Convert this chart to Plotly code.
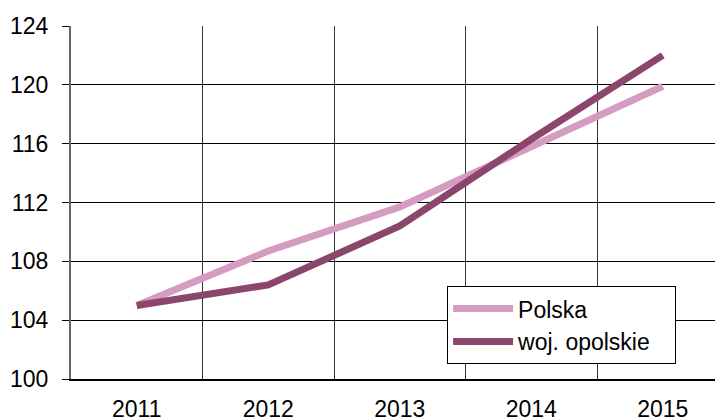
import plotly.graph_objects as go

years = [2011, 2012, 2013, 2014, 2015]
polska = [105.0, 108.7, 111.7, 115.8, 119.9]
opolskie = [105.0, 106.4, 110.4, 116.3, 122.0]
y_ticks = [100, 104, 108, 112, 116, 120, 124]
names = ["Polska", "woj. opolskie"]

pad = "\u00a0\u00a0\u00a0"
fig = go.Figure()
fig.add_trace(go.Scatter(x=years, y=polska, mode="lines", name=names[0] + pad,
                         line=dict(color="#D69BC0", width=7)))
fig.add_trace(go.Scatter(x=years, y=opolskie, mode="lines", name=names[1] + pad,
                         line=dict(color="#8B466E", width=7)))

fig.update_layout(
    width=715, height=417,
    margin=dict(l=71, r=0, t=26, b=38),
    paper_bgcolor="white", plot_bgcolor="white",
    font=dict(family="Liberation Sans, Arial, sans-serif", size=23, color="black"),
    legend=dict(x=0.584, y=0.263, xanchor="left", yanchor="top",
                bordercolor="black", borderwidth=1, bgcolor="white",
                font=dict(size=23), tracegroupgap=0, itemwidth=60),
    showlegend=True,
)
fig.update_xaxes(
    range=[2010.5, 2015.397],
    tickmode="array", tickvals=years, ticktext=[str(y) for y in years],
    showgrid=False, ticks="", ticklen=0,
    minor=dict(tick0=2010.5, dtick=1, showgrid=True, gridcolor="#333333", gridwidth=1),
    showline=True, linecolor="black", linewidth=2,
    zeroline=False, ticklabelstandoff=8, automargin=False,
)
fig.update_yaxes(
    range=[100, 124], tickvals=y_ticks,
    showgrid=True, gridcolor="black", gridwidth=1,
    ticks="outside", ticklen=7, tickcolor="black",
    showline=True, linecolor="#666666", linewidth=2,
    zeroline=False, ticklabelstandoff=9, automargin=False,
)
fig.write_html("out.html", config={"displayModeBar": False},
               post_script="document.body.style.margin='0';")
